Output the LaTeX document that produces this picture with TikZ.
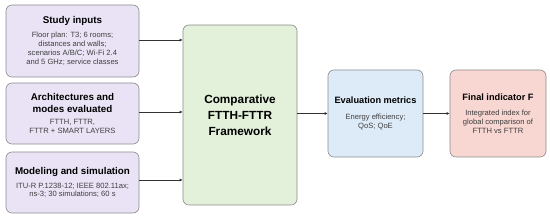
\documentclass[tikz,border=0pt]{standalone}
\usepackage{fontspec}
\setmainfont{Liberation Sans}
\usetikzlibrary{arrows.meta}
\definecolor{inputfill}{HTML}{E9E3F5}
\definecolor{corefill}{HTML}{E3F0DA}
\definecolor{metricfill}{HTML}{DDEBF8}
\definecolor{finalfill}{HTML}{F8D6D1}
\definecolor{edgegray}{HTML}{8C8C8C}
\definecolor{bodygray}{HTML}{3F3F3F}
\newcommand{\titlefont}{\fontsize{9.8}{12.5}\selectfont\bfseries\color{black}}
\newcommand{\outtitlefont}{\fontsize{9.2}{11}\selectfont\bfseries\color{black}}
\newcommand{\bodyfont}{\fontsize{7.6}{8.8}\selectfont\color{bodygray}}
\tikzset{
  flowarrow/.style={-{Latex[length=3pt,width=3pt]}, line width=0.7pt, draw=black!80},
  inputbox/.style={draw=edgegray, line width=0.6pt, rounded corners=6pt, fill=inputfill, minimum width=133pt, align=center, inner sep=0pt, font=\bodyfont},
  corebox/.style={draw=edgegray, line width=0.6pt, rounded corners=6pt, fill=corefill, minimum width=114pt, minimum height=180pt, align=center, font=\fontsize{11.8}{16}\selectfont\bfseries},
  metricbox/.style={draw=edgegray, line width=0.6pt, rounded corners=6pt, fill=metricfill, minimum width=95pt, minimum height=87pt, align=center, inner sep=0pt, font=\bodyfont},
  finalbox/.style={draw=edgegray, line width=0.6pt, rounded corners=6pt, fill=finalfill, minimum width=96pt, minimum height=87pt, align=center, inner sep=0pt, font=\bodyfont}
}
\begin{document}
\begin{tikzpicture}[x=1pt, y=-1pt]
  \useasboundingbox[fill=white] (0,0) rectangle (550,219);
  % inputs
  \node[inputbox, minimum height=72pt] (inputs) at (72.5,41) {{\titlefont Study inputs}\\[5pt]
    Floor plan: T3; 6 rooms;\\ distances and walls;\\ scenarios A/B/C; Wi-Fi 2.4\\ and 5 GHz; service classes};
  \node[inputbox, minimum height=61pt] (archs) at (72.5,113.5) {{\titlefont Architectures and}\\[3pt]
    {\titlefont modes evaluated}\\[3pt] FTTH, FTTR,\\ FTTR + SMART LAYERS};
  \node[inputbox, minimum height=61pt] (model) at (72.5,182.5) {{\titlefont Modeling and simulation}\\[5pt]
    ITU-R P.1238-12; IEEE 802.11ax;\\ ns-3; 30 simulations; 60 s};
  % framework
  \node[corebox] (core) at (240,115) {Comparative\\ FTTH-FTTR\\ Framework};
  % outputs
  \node[metricbox] (metrics) at (375.5,113.5) {{\outtitlefont Evaluation metrics}\\[7pt]
    Energy efficiency;\\ QoS; QoE};
  \node[finalbox] (final) at (498,113.5) {{\outtitlefont Final indicator F}\\[7pt]
    Integrated index for\\ global comparison of\\ FTTH vs FTTR};
  \draw[flowarrow] ([yshift=1pt]inputs.east) -- ([yshift=1pt]inputs.east -| core.west);
  \draw[flowarrow] ([yshift=1.5pt]archs.east) -- ([yshift=1.5pt]archs.east -| core.west);
  \draw[flowarrow] ([yshift=2.5pt]model.east) -- ([yshift=2.5pt]model.east -| core.west);
  \draw[flowarrow] (core.east |- metrics.west) -- (metrics.west);
  \draw[flowarrow] (metrics) -- (final);
\end{tikzpicture}
\end{document}
